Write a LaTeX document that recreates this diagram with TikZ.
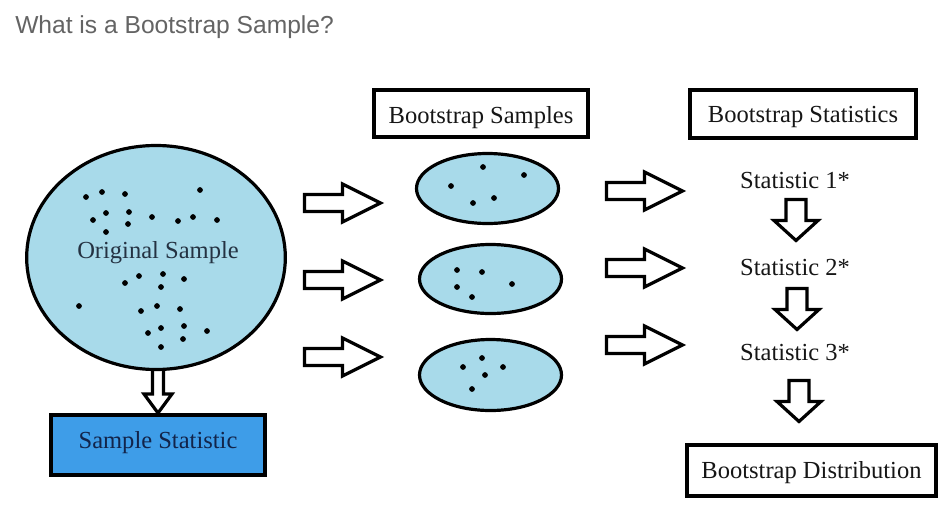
\documentclass[tikz,border=0pt]{standalone}
\usepackage{fontspec}
\setmainfont{Liberation Serif}
\newfontfamily\titlefont{Liberation Sans}
\usetikzlibrary{shapes.geometric,calc}
\definecolor{lblue}{RGB}{168,218,234}
\definecolor{mblue}{RGB}{62,157,232}
\definecolor{titlegray}{RGB}{100,100,100}
\definecolor{slate}{RGB}{36,50,66}
\definecolor{navy}{RGB}{18,36,74}
\definecolor{ink}{RGB}{22,22,22}
\begin{document}
\begin{tikzpicture}[x=0.75pt,y=-0.75pt,
  lbl/.style={font=\fontsize{18.4}{22}\selectfont, text=ink, inner sep=0pt},
  boxst/.style={draw=black, line width=3pt, inner sep=0pt, lbl, text depth=0pt},
  blobst/.style={ellipse, draw=black, line width=2.4pt, fill=lblue, inner sep=0pt},
  blk/.style={draw=black, fill=white, line width=2.4pt, line join=miter},
  rarr/.pic={\path[blk] (0,-8.5) -- (38,-8.5) -- (38,-19) -- (76,0) -- (38,19) -- (38,8.5) -- (0,8.5) -- cycle;},
  darr/.pic={\path[blk] (-10,0) -- (-10,21) -- (-22,21) -- (0,41) -- (22,21) -- (10,21) -- (10,0) -- cycle;}
]
\path[use as bounding box, fill=white] (0,0) rectangle (949,518);

% title
\node[font=\titlefont\fontsize{18.45}{22}\selectfont, text=titlegray, anchor=base west, inner sep=0pt] (title) at (15,33) {What is a Bootstrap Sample?};

% sample statistic box
\node[boxst, fill=mblue, text=navy, minimum width=160.5pt, minimum height=45pt, text height=4.5pt] (sstat) at (158,445) {Sample Statistic};

% original sample with arrow down to the sample statistic
\coordinate (dtop) at (158,367);
\path[blk] ($(dtop)+(-5.5,0)$) -- ($(sstat.north)+(-5.5,-19)$) -- ($(sstat.north)+(-14,-19)$) -- (sstat.north) -- ($(sstat.north)+(14,-19)$) -- ($(sstat.north)+(5.5,-19)$) -- ($(dtop)+(5.5,0)$) -- cycle;
\node[blobst, minimum width=194pt, minimum height=168pt] (orig) at (156,257.5) {};
\foreach \x/\y in {86/197,102/192,125/194,200/190,93/220,106/213,129/212,128/224,152/217,178/221,193/217,217/220,106/232,125/283,139/276,163/274,161/287,184/279,79/306,141/311,157/306,180/309,148/333,161/328,184/326,207/331,183/339,161/347}
  \fill (\x,\y) circle[radius=2.15pt];
\node[lbl, text=slate, anchor=base] (origlbl) at (158,258) {Original Sample};

% bootstrap samples
\node[boxst, minimum width=160.5pt, minimum height=35.25pt, text height=14.25pt] (bs) at (481,113.5) {Bootstrap Samples};
\node[blobst, minimum width=106.5pt, minimum height=52.5pt] (e1) at (487.5,188.5) {};
\node[blobst, minimum width=106.5pt, minimum height=51.75pt] (e2) at (490.5,279) {};
\node[blobst, minimum width=106.5pt, minimum height=53.25pt] (e3) at (490.5,375) {};
\foreach \x/\y in {483/167,524/175,451/186,473/203,494/198,
                   457/270,482/272,457/287,472/297,512/284,
                   482/358,463/367,503/367,485/375,472/389}
  \fill (\x,\y) circle[radius=2.15pt];

% arrows to samples
\pic at (304.5,203) {rarr};
\pic at (304.5,280) {rarr};
\pic at (304.5,357) {rarr};

% arrows to statistics
\pic at (606.5,191) {rarr};
\pic at (606.5,268) {rarr};
\pic at (606.5,345) {rarr};

% bootstrap statistics
\node[boxst, minimum width=169.5pt, minimum height=36pt, text height=12pt] (bstats) at (803,114) {Bootstrap Statistics};
\node[lbl, anchor=base] (st1) at (795,188) {Statistic 1*};
\node[lbl, anchor=base] (st2) at (795,275) {Statistic 2*};
\node[lbl, anchor=base] (st3) at (795,360) {Statistic 3*};
\pic at (796,199.5) {darr};
\pic at (797,288.5) {darr};
\pic at (799,380.5) {darr};

% bootstrap distribution
\node[boxst, minimum width=186.75pt, minimum height=38.25pt, text height=11.25pt] (bdist) at (811.5,470.5) {Bootstrap Distribution};
\end{tikzpicture}
\end{document}
